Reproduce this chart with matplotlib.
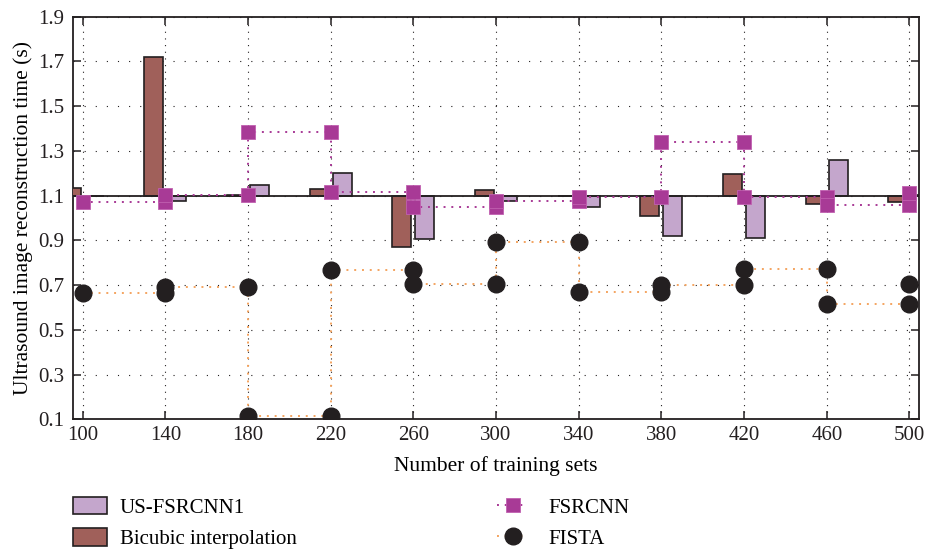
import numpy as np
import matplotlib
matplotlib.use("Agg")
import matplotlib.pyplot as plt
from matplotlib.patches import Patch
from matplotlib.lines import Line2D

plt.rcParams['font.family'] = ['Liberation Serif', 'DejaVu Serif']

# ---- data ----
training_sets = [100, 140, 180, 220, 260, 300, 340, 380, 420, 460, 500]
us_fsrcnn1 = [1.097, 1.075, 1.146, 1.200, 0.906, 1.075, 1.048, 0.921, 0.910, 1.260, 1.103]
bicubic = [1.135, 1.718, 1.102, 1.128, 0.869, 1.124, 1.098, 1.010, 1.197, 1.064, 1.071]
fsrcnn = [1.071, 1.104, 1.386, 1.115, 1.050, 1.076, 1.095, 1.340, 1.092, 1.057, 1.110]
fista = [0.666, 0.690, 0.115, 0.767, 0.703, 0.891, 0.669, 0.700, 0.770, 0.617, 0.703]
yticks = [0.1, 0.3, 0.5, 0.7, 0.9, 1.1, 1.3, 1.5, 1.7, 1.9]
base_value = 1.1

c_us = '#c4a6cc'
c_bic = '#a0605a'
c_fsr = '#a83a96'
c_fista = '#231f20'
c_orange = '#f4a460'
c_edge = '#231f20'

fig = plt.figure(figsize=(9.35, 5.49), dpi=100)
ax = fig.add_axes([0.0778, 0.2363, 0.9048, 0.7333])

x = np.array(training_sets, dtype=float)
bw = 9.2
off = 5.6

ax.bar(x - off, np.array(bicubic) - base_value, bottom=base_value, width=bw,
       color=c_bic, edgecolor=c_edge, linewidth=1.2, zorder=3)
ax.bar(x + off, np.array(us_fsrcnn1) - base_value, bottom=base_value, width=bw,
       color=c_us, edgecolor=c_edge, linewidth=1.2, zorder=3)
ax.axhline(base_value, color=c_edge, lw=1.3, zorder=3.5)

def stairs(xv, yv):
    xv = np.asarray(xv, dtype=float)
    yv = np.asarray(yv, dtype=float)
    return np.repeat(xv, 2)[1:], np.repeat(yv, 2)[:-1]

sx, sy = stairs(training_sets, fsrcnn)
ax.plot(sx, sy, ls=(0, (1, 3)), color=c_fsr, lw=1.4, zorder=4)
ax.plot(sx, sy, ls='none', marker='s', ms=9.6, mfc=c_fsr, mec='#c060b0',
        mew=0.6, zorder=5)

fx, fy = stairs(training_sets, fista)
ax.plot(fx, fy, ls=(0, (1, 3)), color=c_orange, lw=1.4, zorder=4)
ax.plot(fx, fy, ls='none', marker='o', ms=12, mfc=c_fista, mec=c_fista,
        zorder=5)

ax.set_xlim(95.2, 504.5)
ax.set_ylim(0.1, 1.9)
ax.set_xticks(training_sets)
ax.set_yticks(yticks)
ax.set_yticklabels([f"{v:.1f}" for v in yticks])

ax.grid(axis='x', ls=(0, (1, 5)), color='#231f20', lw=0.8, zorder=0)
ax.grid(axis='y', ls=(0, (1, 9)), color='#231f20', lw=0.8, zorder=0)
ax.set_axisbelow(True)

ax.tick_params(direction='in', top=True, right=True, length=6, width=1.1,
               labelsize=15, colors='#231f20')
ax.tick_params(axis='x', pad=5)
ax.tick_params(axis='y', pad=6)
for s in ax.spines.values():
    s.set_linewidth(1.3)
    s.set_color('#231f20')

ax.set_xlabel("Number of training sets", fontsize=15.5, labelpad=8)
ax.set_ylabel("Ultrasound image reconstruction time (s)", fontsize=15.5, labelpad=4)

h1 = [Patch(facecolor=c_us, edgecolor=c_edge, lw=1.2),
      Patch(facecolor=c_bic, edgecolor=c_edge, lw=1.2)]
leg1 = fig.legend(h1, ["US-FSRCNN1", "Bicubic interpolation"], loc='upper left',
                  bbox_to_anchor=(73/935, 1 - 497/549), frameon=False,
                  fontsize=15, handlelength=1.65, handleheight=0.9,
                  handletextpad=0.6, labelspacing=0.5, borderpad=0,
                  borderaxespad=0)
h2 = [Line2D([], [], ls=(0, (1, 3)), color=c_fsr, lw=1.4, marker='s', ms=9.6,
             mfc=c_fsr, mec='#c060b0', mew=0.6),
      Line2D([], [], ls=(0, (1, 3)), color=c_orange, lw=1.4, marker='o', ms=12,
             mfc=c_fista, mec=c_fista)]
leg2 = fig.legend(h2, ["FSRCNN", "FISTA"], loc='upper left',
                  bbox_to_anchor=(497/935, 1 - 497/549), frameon=False,
                  fontsize=15, handlelength=1.5, handleheight=0.9,
                  handletextpad=0.95, labelspacing=0.5, borderpad=0,
                  borderaxespad=0)

fig.savefig("out.png", dpi=100)
